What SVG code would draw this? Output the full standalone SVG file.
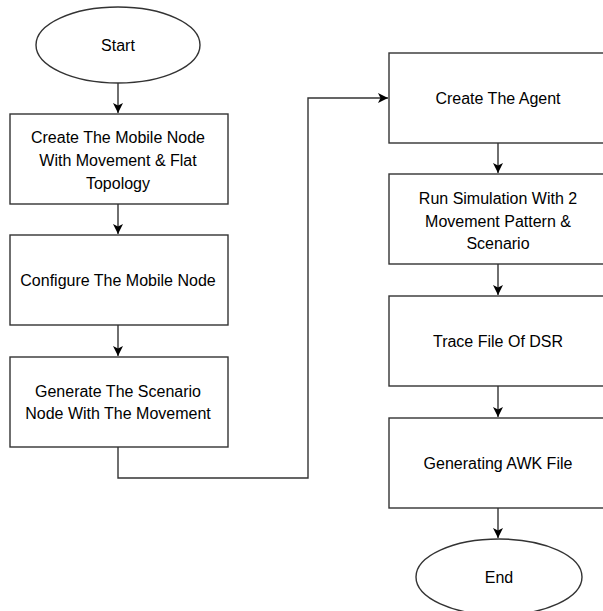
<svg xmlns="http://www.w3.org/2000/svg" width="603" height="611" viewBox="0 0 603 611">
<style>
.n{fill:#fff;stroke:#333;stroke-width:1.4}
.t{font-family:"Liberation Sans",Arial,sans-serif;font-size:16px;fill:#000;text-anchor:middle}
.c{fill:none;stroke:#333;stroke-width:1.4}
</style>
<defs>
<marker id="ah" viewBox="0 0 10 10" refX="10" refY="5" markerWidth="10" markerHeight="10" markerUnits="userSpaceOnUse" orient="auto">
<path d="M0,0 L10,5 L0,10 L2.5,5 Z" fill="#000"/>
</marker>
</defs>
<rect width="603" height="611" fill="#fff"/>
<g id="connectors">
<path class="c" d="M118,83 V113" marker-end="url(#ah)"/>
<path class="c" d="M118,204 V234" marker-end="url(#ah)"/>
<path class="c" d="M118,325 V356" marker-end="url(#ah)"/>
<path class="c" d="M118,447 V478 H308 V98 H388" marker-end="url(#ah)"/>
<path class="c" d="M498,143 V173" marker-end="url(#ah)"/>
<path class="c" d="M498,264 V295" marker-end="url(#ah)"/>
<path class="c" d="M498,386 V417" marker-end="url(#ah)"/>
<path class="c" d="M498,508 V538" marker-end="url(#ah)"/>
</g>
<g id="start">
<ellipse class="n" cx="118" cy="45" rx="82" ry="38"/>
<text class="t" x="118" y="51">Start</text>
</g>
<g id="create-mobile-node">
<rect class="n" x="10" y="114" width="218" height="90"/>
<text class="t" x="118" y="143">Create The Mobile Node</text>
<text class="t" x="118" y="166">With Movement &amp; Flat</text>
<text class="t" x="118" y="189">Topology</text>
</g>
<g id="configure-mobile-node">
<rect class="n" x="10" y="235" width="218" height="90"/>
<text class="t" x="118" y="286">Configure The Mobile Node</text>
</g>
<g id="generate-scenario">
<rect class="n" x="10" y="357" width="218" height="90"/>
<text class="t" x="118" y="397">Generate The Scenario</text>
<text class="t" x="118" y="419">Node With The Movement</text>
</g>
<g id="create-agent">
<rect class="n" x="389" y="53" width="218" height="90"/>
<text class="t" x="498" y="104">Create The Agent</text>
</g>
<g id="run-simulation">
<rect class="n" x="389" y="174" width="218" height="90"/>
<text class="t" x="498" y="204">Run Simulation With 2</text>
<text class="t" x="498" y="227">Movement Pattern &amp;</text>
<text class="t" x="498" y="249">Scenario</text>
</g>
<g id="trace-file">
<rect class="n" x="389" y="296" width="218" height="90"/>
<text class="t" x="498" y="347">Trace File Of DSR</text>
</g>
<g id="generating-awk">
<rect class="n" x="389" y="418" width="218" height="90"/>
<text class="t" x="498" y="469">Generating AWK File</text>
</g>
<g id="end">
<ellipse class="n" cx="499" cy="577" rx="83" ry="38"/>
<text class="t" x="499" y="583">End</text>
</g>
</svg>
